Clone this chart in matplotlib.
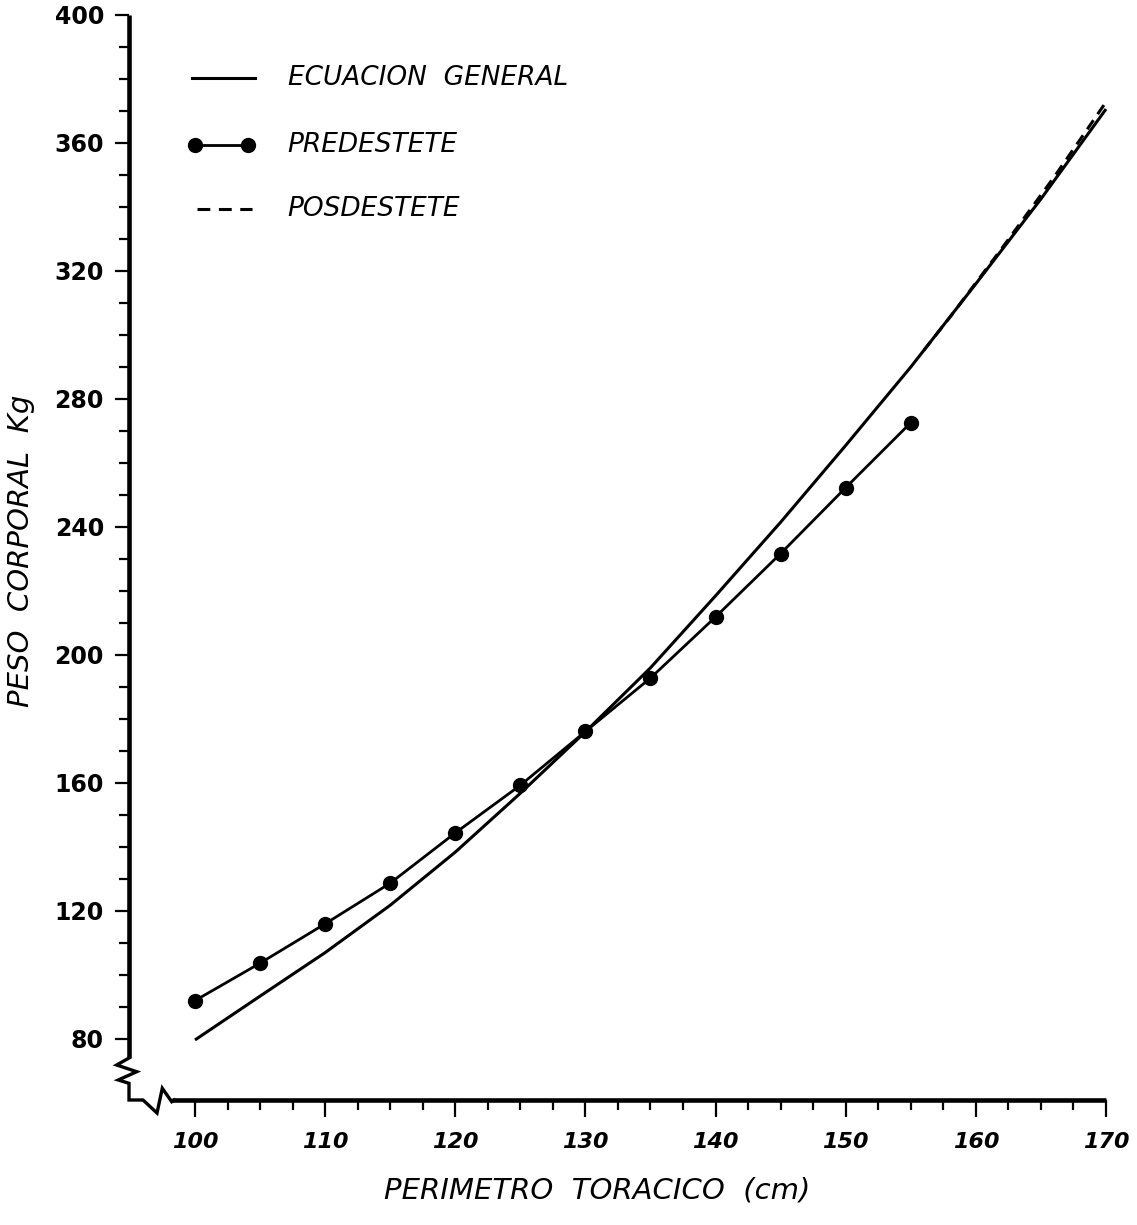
import matplotlib
matplotlib.use("Agg")
import matplotlib.pyplot as plt
from matplotlib.ticker import FixedLocator, NullFormatter
from matplotlib.lines import Line2D

# ---------------- data ----------------
perimetro_general = [100, 105, 110, 115, 120, 125, 130, 135, 140, 145, 150, 155, 160, 165, 170]
peso_general = [79.7, 93.4, 107.0, 121.8, 138.4, 156.8, 176.0, 196.0, 218.5, 241.5, 265.5, 290.0, 316.0, 342.5, 370.6]

perimetro_pre = [100, 105, 110, 115, 120, 125, 130, 135, 140, 145, 150, 155]
peso_pre = [92.0, 103.7, 116.0, 128.7, 144.4, 159.3, 176.1, 192.8, 211.9, 231.7, 252.3, 272.6]

perimetro_pos = [156, 158, 160, 162, 164, 166, 168, 170]
peso_pos = [295.2, 305.5, 316.3, 327.1, 338.2, 349.3, 361.0, 372.8]

x_major = [100, 110, 120, 130, 140, 150, 160, 170]
y_major = [80, 120, 160, 200, 240, 280, 320, 360, 400]

legend_labels = ["ECUACION  GENERAL", "PREDESTETE", "POSDESTETE"]
x_label = "PERIMETRO  TORACICO  (cm)"
y_label = "PESO  CORPORAL  Kg"

# ---------------- figure ----------------
W, H = 1137, 1225
fig = plt.figure(figsize=(W / 100, H / 100), dpi=100)
ax_left_px, ax_right_px, ax_top_px, ax_bot_px = 129.0, 1106.0, 15.0, 1100.0
ax = fig.add_axes([ax_left_px / W, 1 - ax_bot_px / H,
                   (ax_right_px - ax_left_px) / W, (ax_bot_px - ax_top_px) / H])

x_scale = (1106.0 - 195.0) / 70.0     # px per cm
y_scale = (1039.0 - 15.0) / 320.0     # px per kg
ax.set_xlim(100 - (195.0 - ax_left_px) / x_scale, 170)
ax.set_ylim(80 - (ax_bot_px - 1039.0) / y_scale, 400)

lw = 2.2
ax.plot(perimetro_general, peso_general, color="black", lw=lw, solid_capstyle="butt",
        clip_on=False, zorder=3)
ax.plot(perimetro_pre, peso_pre, color="black", lw=2.0, marker="o", markersize=10,
        clip_on=False, zorder=4)
ax.plot(perimetro_pos, peso_pos, color="black", lw=lw, dashes=(3.6, 2.4),
        clip_on=False, zorder=3)

# spines
for s in ["top", "right"]:
    ax.spines[s].set_visible(False)
spine_lw = 3.3
ax.spines["left"].set_linewidth(spine_lw)
ax.spines["bottom"].set_linewidth(spine_lw)
ax.spines["left"].set_bounds(74.0, 400)
ax.spines["bottom"].set_bounds(98.2, 170)
ax.spines["left"].set_capstyle("butt")
ax.spines["bottom"].set_capstyle("butt")

# ticks
ax.yaxis.set_major_locator(FixedLocator(y_major))
ax.yaxis.set_minor_locator(FixedLocator([v for v in range(80, 401, 10) if v % 40]))
ax.xaxis.set_major_locator(FixedLocator(x_major))
ax.xaxis.set_minor_locator(FixedLocator([100 + 2.5 * i for i in range(29) if (i % 4)]))
ax.yaxis.set_minor_formatter(NullFormatter())
ax.xaxis.set_minor_formatter(NullFormatter())
ax.tick_params(axis="y", which="major", direction="out", length=10, width=1.6, pad=8,
               labelsize=17)
ax.tick_params(axis="y", which="minor", direction="out", length=7.5, width=1.6)
ax.tick_params(axis="x", which="major", direction="out", length=12, width=1.6, pad=11,
               labelsize=16)
ax.tick_params(axis="x", which="minor", direction="out", length=7, width=1.6)
ax.set_yticklabels([str(v) for v in y_major], fontweight="bold")
ax.set_xticklabels([str(v) for v in x_major], fontweight="bold", fontstyle="italic")

# axis break marks (axes fraction from pixel positions)
def fx(px):
    return (px - ax_left_px) / (ax_right_px - ax_left_px)

def fy(py):
    return (ax_bot_px - py) / (ax_bot_px - ax_top_px)

brk_px = [(129, 1058), (116.7, 1065), (136.7, 1071.7), (118.3, 1080), (129, 1083.3),
          (129, 1100), (143, 1100), (157, 1113), (162.3, 1088.3), (171.7, 1101.7),
          (174, 1100)]
ax.add_line(Line2D([fx(p[0]) for p in brk_px], [fy(p[1]) for p in brk_px],
                   transform=ax.transAxes, color="black", lw=2.4, clip_on=False,
                   solid_joinstyle="miter"))

# legend (hand drawn)
leg_fs = 19
ax.add_line(Line2D([fx(192), fx(255)], [fy(78), fy(78)], transform=ax.transAxes,
                   color="black", lw=lw, clip_on=False))
ax.text(fx(288), fy(78), legend_labels[0], transform=ax.transAxes, fontsize=leg_fs,
        fontstyle="italic", va="center", ha="left")
ax.add_line(Line2D([fx(195), fx(248)], [fy(145), fy(145)], transform=ax.transAxes,
                   color="black", lw=2.0, marker="o", markersize=10, clip_on=False))
ax.text(fx(287), fy(145), legend_labels[1], transform=ax.transAxes, fontsize=leg_fs,
        fontstyle="italic", va="center", ha="left")
ax.add_line(Line2D([fx(197), fx(252)], [fy(209), fy(209)], transform=ax.transAxes,
                   color="black", lw=lw, dashes=(4.2, 2.8), clip_on=False))
ax.text(fx(287), fy(209), legend_labels[2], transform=ax.transAxes, fontsize=leg_fs,
        fontstyle="italic", va="center", ha="left")

# axis labels
fig.text(597 / W, 1 - 1190 / H, x_label, fontsize=21, fontstyle="italic",
         ha="center", va="center")
fig.text(21 / W, 1 - 551 / H, y_label, fontsize=21, fontstyle="italic",
         ha="center", va="center", rotation=90)

fig.savefig("out.png", dpi=100, facecolor="white")
